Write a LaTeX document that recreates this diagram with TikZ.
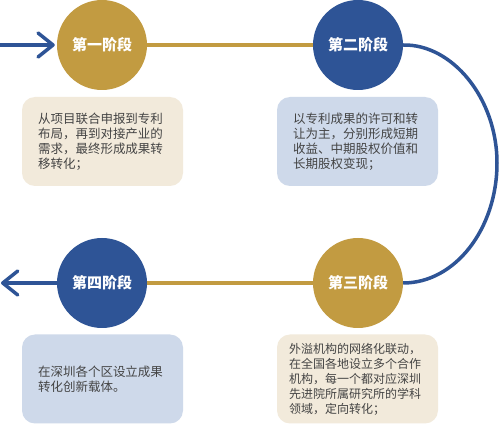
\documentclass[tikz,border=0pt]{standalone}
\usepackage{fontspec}
\setmainfont{Noto Sans CJK SC}
\usetikzlibrary{arrows.meta}
\definecolor{gold}{HTML}{C29B41}
\definecolor{navy}{HTML}{2E5496}
\definecolor{beige}{HTML}{F2EADB}
\definecolor{paleblue}{HTML}{CED9EA}
\definecolor{txt}{HTML}{444444}
\tikzset{
  stage/.style={circle, minimum size=90pt, inner sep=0pt, text=white, font=\fontsize{15}{18}\selectfont\bfseries},
  infobox/.style={rounded corners=13pt, minimum width=161pt, minimum height=89pt, inner xsep=16pt, inner ysep=0pt,
     text width=129pt, align=left, text=txt, font=\fontsize{12.5}{15}\selectfont},
  goldline/.style={draw=gold, line width=4pt},
  blueline/.style={draw=navy, line width=3.5pt},
  chev/.style={-{Straight Barb[round, length=15pt, width=24pt]}},
}
\begin{document}
\begin{tikzpicture}[x=1pt,y=-1pt]
\useasboundingbox (0,0) rectangle (499,425);
\fill[white] (0,0) rectangle (499,425);
% stages
\node[stage, fill=gold] (c1) at (102,45) {第一阶段};
\node[stage, fill=navy] (c2) at (358,45) {第二阶段};
\node[stage, fill=gold] (c3) at (358,283) {第三阶段};
\node[stage, fill=navy] (c4) at (102,283) {第四阶段};
% boxes
\node[infobox, fill=beige] (b1) at (102.5,141.5) {从项目联合申报到专利\\布局，再到对接产业的\\需求，最终形成成果转\\移转化；};
\node[infobox, fill=paleblue] (b2) at (357.5,141.5) {以专利成果的许可和转\\让为主，分别形成短期\\收益、中期股权价值和\\长期股权变现；};
\node[infobox, fill=beige, inner xsep=12pt, text width=137pt, font=\fontsize{12}{15}\selectfont] (b3) at (357.5,379) {外溢机构的网络化联动，\\在全国各地设立多个合作\\机构，每一个都对应深圳\\先进院所属研究所的学科\\领域，定向转化；};
\node[infobox, fill=paleblue] (b4) at (102.5,379) {在深圳各个区设立成果\\转化创新载体。};
% connectors
\coordinate (in1) at (0,45);
\coordinate (out4) at (1,283);
\coordinate (rim) at (497,163);
\draw[blueline, chev, shorten >=2pt] (in1) -- (c1.west);
\draw[goldline] (c1.east) -- (c2.west);
\draw[blueline] (c2.east) .. controls (452,44) and (497,98) .. (rim)
   .. controls (497,229) and (455,283) .. (c3.east);
\draw[goldline] (c3.west) -- (c4.east);
\draw[blueline, chev] (c4.west) -- (out4);
\end{tikzpicture}
\end{document}
